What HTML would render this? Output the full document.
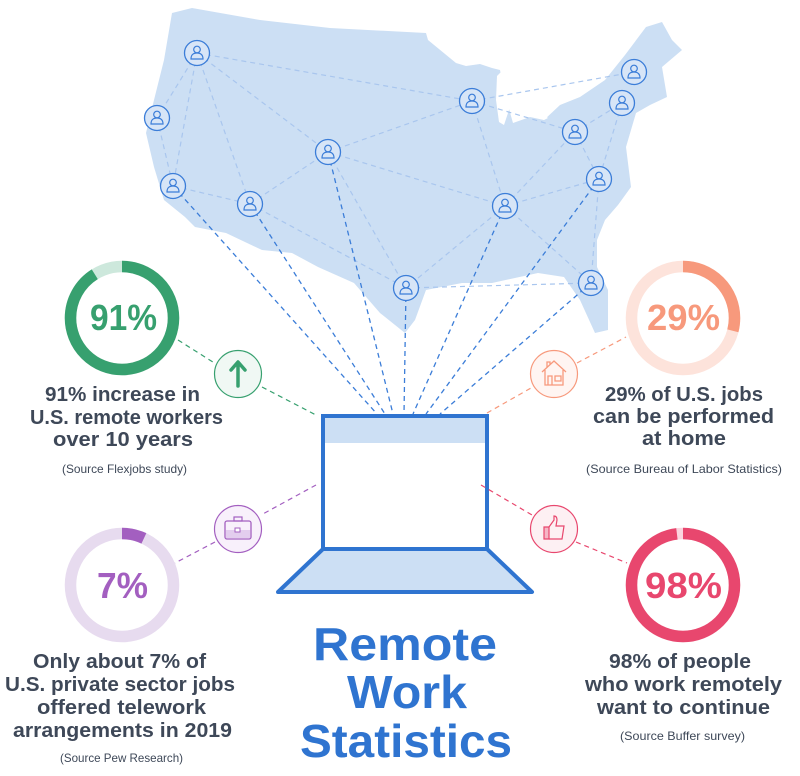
<!DOCTYPE html>
<html><head><meta charset="utf-8"><style>
html,body{margin:0;padding:0;background:#fff;width:800px;height:776px;overflow:hidden}
svg{display:block}
.t{font-family:"Liberation Sans",sans-serif;font-weight:bold;fill:#3e4858;font-size:20px}
.s{font-family:"Liberation Sans",sans-serif;fill:#3e4858;font-size:12px}
</style></head><body>
<svg width="800" height="776" viewBox="0 0 800 776" xmlns="http://www.w3.org/2000/svg">
<defs>
<g id="p"><circle r="12.5" fill="#d7e5f7" stroke="#3b7dd8" stroke-width="1.3"/><circle cy="-3.5" r="3.3" fill="none" stroke="#3b7dd8" stroke-width="1.2"/><path d="M-6,6 Q-6,0 0,0 Q6,0 6,6 Z" fill="none" stroke="#3b7dd8" stroke-width="1.2"/></g>
</defs>
<polygon fill="#ccdff4" points="172,13 192,8 260,20 330,28 426,33 428,40 456,63 478,58 500,70 505,95 513,123 525,110 544,120 560,105 580,97 605,80 625,55 646,27 662,22 672,40 682,50 662,67 667,97 650,105 636,113 626,147 631,187 618,205 605,220 597,240 597,267 608,290 608,330 595,333 580,300 564,277 538,273 492,283 462,283 426,290 415,320 405,333 380,313 354,283 318,267 292,253 262,250 226,233 195,227 185,217 164,200 154,167 146,133 154,100 164,60"/>
<polygon fill="#fff" points="456,63 462,58 478,56 492,62 500,70 492,68 480,64 466,66"/>
<polygon fill="#fff" points="497,76 503,70 510,74 512,90 509,110 504,125 499,122 496,100"/>
<polygon fill="#fff" points="513,123 518,100 522,88 530,95 528,110 540,112 548,118 544,120 530,117"/>
<g stroke="#a9c6ee" stroke-width="1.2" stroke-dasharray="5,4" fill="none">
<line x1="197" y1="53" x2="157" y2="118"/><line x1="197" y1="53" x2="173" y2="186"/><line x1="197" y1="53" x2="250" y2="204"/><line x1="197" y1="53" x2="328" y2="152"/><line x1="197" y1="53" x2="472" y2="101"/>
<line x1="157" y1="118" x2="173" y2="186"/><line x1="173" y1="186" x2="250" y2="204"/><line x1="250" y1="204" x2="328" y2="152"/><line x1="250" y1="204" x2="406" y2="288"/>
<line x1="328" y1="152" x2="472" y2="101"/><line x1="328" y1="152" x2="505" y2="206"/><line x1="328" y1="152" x2="406" y2="288"/>
<line x1="472" y1="101" x2="634" y2="72"/><line x1="472" y1="101" x2="575" y2="132"/><line x1="472" y1="101" x2="505" y2="206"/>
<line x1="575" y1="132" x2="622" y2="103"/><line x1="575" y1="132" x2="599" y2="179"/><line x1="622" y1="103" x2="599" y2="179"/>
<line x1="505" y1="206" x2="599" y2="179"/><line x1="505" y1="206" x2="575" y2="132"/><line x1="505" y1="206" x2="406" y2="288"/><line x1="505" y1="206" x2="591" y2="283"/>
<line x1="406" y1="288" x2="591" y2="283"/><line x1="591" y1="283" x2="599" y2="179"/>
</g>
<g stroke="#3b7dd8" stroke-width="1.3" stroke-dasharray="5,4" fill="none">
<line x1="173" y1="186" x2="377" y2="414"/><line x1="250" y1="204" x2="385" y2="414"/><line x1="328" y1="152" x2="393" y2="414"/><line x1="406" y1="288" x2="404" y2="414"/><line x1="505" y1="206" x2="413" y2="414"/><line x1="599" y1="179" x2="426" y2="414"/><line x1="591" y1="283" x2="440" y2="414"/>
</g>
<use href="#p" x="197" y="53"/><use href="#p" x="157" y="118"/><use href="#p" x="173" y="186"/><use href="#p" x="250" y="204"/><use href="#p" x="328" y="152"/><use href="#p" x="472" y="101"/><use href="#p" x="634" y="72"/><use href="#p" x="622" y="103"/><use href="#p" x="575" y="132"/><use href="#p" x="599" y="179"/><use href="#p" x="505" y="206"/><use href="#p" x="406" y="288"/><use href="#p" x="591" y="283"/>
<!-- laptop -->
<polygon points="323,549 487,549 532,592 278,592" fill="#ccdff4" stroke="#2f74d0" stroke-width="4" stroke-linejoin="round"/>
<rect x="323" y="416" width="164" height="133" fill="#fff" stroke="#2f74d0" stroke-width="4"/>
<rect x="325" y="418" width="160" height="25" fill="#ccdff4"/>
<!-- connectors -->
<g stroke-width="1.2" stroke-dasharray="5,4" fill="none">
<line x1="178" y1="340" x2="216" y2="364" stroke="#37a06f"/><line x1="262" y1="387" x2="316" y2="415" stroke="#37a06f"/>
<line x1="316" y1="485" x2="261" y2="515" stroke="#a35fc0"/><line x1="215" y1="542" x2="175" y2="563" stroke="#a35fc0"/>
<line x1="487" y1="413" x2="531" y2="388" stroke="#f7997c"/><line x1="577" y1="363" x2="626" y2="337" stroke="#f7997c"/>
<line x1="481" y1="485" x2="532" y2="515" stroke="#e8476e"/><line x1="576" y1="542" x2="627" y2="563" stroke="#e8476e"/>
</g>
<!-- icon circles -->
<circle cx="238" cy="374" r="23.5" fill="#f0f8f4" stroke="#37a06f" stroke-width="1.2"/>
<path d="M238,386 V364 M231,370 L238,362 L245,370" stroke="#37a06f" stroke-width="3.5" fill="none" stroke-linecap="round" stroke-linejoin="round"/>
<circle cx="554" cy="374" r="23.5" fill="#fff5f2" stroke="#f7997c" stroke-width="1.2"/>
<path d="M542,372 L554,361 L566,372 M545,370 V385 H563 V370 M548,385 V376 H552 V385 M555,376 H561 V381 H555 Z M547,367 V362 H550 V365" stroke="#f7997c" stroke-width="1.3" fill="none"/>
<circle cx="238" cy="529" r="23.5" fill="#f8f0fb" stroke="#a35fc0" stroke-width="1.2"/>
<rect x="225" y="521" width="26" height="18" rx="2" fill="none" stroke="#a35fc0" stroke-width="1.3"/><rect x="226" y="530" width="24" height="8" fill="#e3cdee"/><rect x="234" y="517" width="8" height="4" fill="none" stroke="#a35fc0" stroke-width="1.2"/><rect x="235" y="528" width="5" height="4" fill="#fff" stroke="#a35fc0" stroke-width="1"/>
<circle cx="554" cy="529" r="23.5" fill="#fdf0f3" stroke="#e8476e" stroke-width="1.2"/>
<path d="M544,527 H549 V539 H544 Z" fill="#f5b6c6" stroke="#e8476e" stroke-width="1.2"/><path d="M549,527 L554,520 V516 Q557,516 557,520 L556,526 H564 L562,539 H549" fill="none" stroke="#e8476e" stroke-width="1.2"/>
<!-- rings -->
<g fill="none" stroke-width="11.5">
<circle cx="122" cy="318" r="51.5" stroke="#cde8dc"/>
<circle cx="122" cy="318" r="51.5" stroke="#37a06f" stroke-dasharray="294.5 400" transform="rotate(-90 122 318)"/>
<circle cx="683" cy="318" r="51.5" stroke="#fde3db"/>
<circle cx="683" cy="318" r="51.5" stroke="#f7997c" stroke-dasharray="93.8 400" transform="rotate(-90 683 318)"/>
<circle cx="122" cy="585" r="51.5" stroke="#e7dbef"/>
<circle cx="122" cy="585" r="51.5" stroke="#a35fc0" stroke-dasharray="22.6 400" transform="rotate(-90 122 585)"/>
<circle cx="683" cy="585" r="51.5" stroke="#fbd5df"/>
<circle cx="683" cy="585" r="51.5" stroke="#e8476e" stroke-dasharray="317 400" transform="rotate(-90 683 585)"/>
</g>
<g font-family="Liberation Sans,sans-serif" font-weight="bold" font-size="36">
<text x="90" y="330" textLength="67" lengthAdjust="spacingAndGlyphs" fill="#37a06f">91%</text>
<text x="647" y="330" textLength="73" lengthAdjust="spacingAndGlyphs" fill="#f7997c">29%</text>
<text x="97" y="598" textLength="51" lengthAdjust="spacingAndGlyphs" fill="#a35fc0">7%</text>
<text x="645" y="598" textLength="77" lengthAdjust="spacingAndGlyphs" fill="#e8476e">98%</text>
</g>
<g class="t">
<text x="45" y="401" textLength="155" lengthAdjust="spacingAndGlyphs">91% increase in</text>
<text x="30" y="424" textLength="193" lengthAdjust="spacingAndGlyphs">U.S. remote workers</text>
<text x="53" y="446" textLength="140" lengthAdjust="spacingAndGlyphs">over 10 years</text>
<text x="605" y="401" textLength="158" lengthAdjust="spacingAndGlyphs">29% of U.S. jobs</text>
<text x="593" y="423" textLength="181" lengthAdjust="spacingAndGlyphs">can be performed</text>
<text x="642" y="445" textLength="84" lengthAdjust="spacingAndGlyphs">at home</text>
<text x="33" y="668" textLength="173" lengthAdjust="spacingAndGlyphs">Only about 7% of</text>
<text x="5" y="691" textLength="230" lengthAdjust="spacingAndGlyphs">U.S. private sector jobs</text>
<text x="37" y="714" textLength="169" lengthAdjust="spacingAndGlyphs">offered telework</text>
<text x="13" y="737" textLength="219" lengthAdjust="spacingAndGlyphs">arrangements in 2019</text>
<text x="609" y="668" textLength="142" lengthAdjust="spacingAndGlyphs">98% of people</text>
<text x="585" y="691" textLength="197" lengthAdjust="spacingAndGlyphs">who work remotely</text>
<text x="597" y="714" textLength="173" lengthAdjust="spacingAndGlyphs">want to continue</text>
</g>
<g class="s">
<text x="62" y="473" textLength="125" lengthAdjust="spacingAndGlyphs">(Source Flexjobs study)</text>
<text x="586" y="473" textLength="196" lengthAdjust="spacingAndGlyphs">(Source Bureau of Labor Statistics)</text>
<text x="60" y="762" textLength="123" lengthAdjust="spacingAndGlyphs">(Source Pew Research)</text>
<text x="620" y="740" textLength="125" lengthAdjust="spacingAndGlyphs">(Source Buffer survey)</text>
</g>
<g font-family="Liberation Sans,sans-serif" font-weight="bold" font-size="46" fill="#2f74d0">
<text x="313" y="660" textLength="184" lengthAdjust="spacingAndGlyphs">Remote</text>
<text x="347" y="708" textLength="120" lengthAdjust="spacingAndGlyphs">Work</text>
<text x="300" y="757" textLength="212" lengthAdjust="spacingAndGlyphs">Statistics</text>
</g>
</svg>
</body></html>
